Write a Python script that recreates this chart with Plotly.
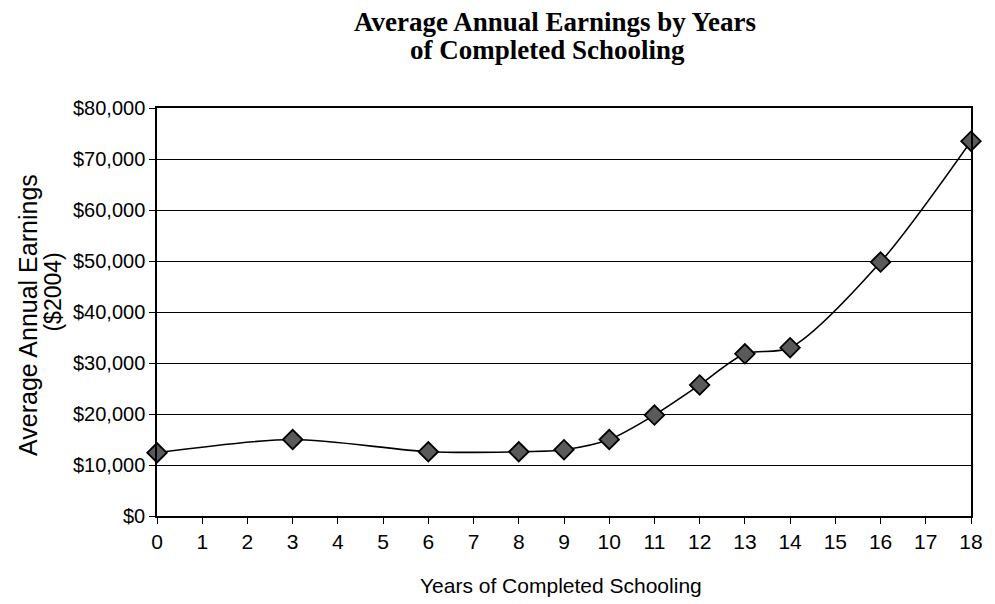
import plotly.graph_objects as go

years = [0, 3, 6, 8, 9, 10, 11, 12, 13, 14, 16, 18]
earnings = [12400, 15000, 12600, 12600, 13000, 15000, 19800, 25700, 31800, 33000, 49800, 73500]
x_ticks = list(range(0, 19))
y_ticks = [0, 10000, 20000, 30000, 40000, 50000, 60000, 70000, 80000]
y_tick_labels = ["$0", "$10,000", "$20,000", "$30,000", "$40,000",
                 "$50,000", "$60,000", "$70,000", "$80,000"]

# plot-area pixel box (for placing annotations)
L, R, T, B = 157, 983, 108, 516
W, H = R - L, B - T

fig = go.Figure()
fig.add_trace(go.Scatter(
    x=years, y=earnings, mode="lines+markers",
    line=dict(color="black", width=1.6, shape="spline", smoothing=0.8),
    marker=dict(symbol="diamond", size=15, color="#5a5a5a",
                line=dict(color="black", width=1.8)),
    cliponaxis=False, showlegend=False,
))

fig.update_layout(
    width=995, height=604,
    margin=dict(l=L, r=995 - R, t=T, b=604 - B),
    paper_bgcolor="white", plot_bgcolor="white",
    font=dict(family="Liberation Sans, Arial, sans-serif", color="black"),
)

fig.update_xaxes(
    range=[0, 18], tickvals=x_ticks, ticktext=[str(v) for v in x_ticks],
    showgrid=False, zeroline=False,
    showline=True, linecolor="black", linewidth=1.5, mirror=True,
    ticks="outside", ticklen=6, tickcolor="black", tickwidth=1.2,
    tickfont=dict(size=21, color="black"), ticklabeloverflow="allow",
)
fig.update_yaxes(
    range=[0, 80000], tickvals=y_ticks, ticktext=y_tick_labels,
    showgrid=True, gridcolor="black", gridwidth=1, zeroline=False,
    showline=True, linecolor="black", linewidth=1.5, mirror=True,
    ticks="outside", ticklen=6, tickcolor="black", tickwidth=1.2,
    tickfont=dict(size=20, color="black"),
)

serif = "Liberation Serif, Times New Roman, serif"
fig.add_annotation(
    text="<b>Average Annual Earnings by Years</b>", xref="paper", yref="paper",
    x=(561 - L) / W, y=(B - 22) / H, showarrow=False,
    xanchor="center", yanchor="middle",
    font=dict(family=serif, size=27, color="black"),
)
fig.add_annotation(
    text="<b>of Completed Schooling</b>", xref="paper", yref="paper",
    x=(553.5 - L) / W, y=(B - 50) / H, showarrow=False,
    xanchor="center", yanchor="middle",
    font=dict(family=serif, size=27, color="black"),
)

fig.add_annotation(
    text="Years of Completed Schooling", xref="paper", yref="paper",
    x=(567 - L) / W, y=-(585 - B) / H, showarrow=False,
    xanchor="center", yanchor="middle",
    font=dict(size=21, color="black"),
)
fig.add_annotation(
    text="Average Annual Earnings", xref="paper", yref="paper",
    x=-(L - 26) / W, y=(B - 315) / H, textangle=-90,
    showarrow=False, xanchor="center", yanchor="middle",
    font=dict(size=25, color="black"),
)
fig.add_annotation(
    text="($2004)", xref="paper", yref="paper",
    x=-(L - 51) / W, y=(B - 292) / H, textangle=-90,
    showarrow=False, xanchor="center", yanchor="middle",
    font=dict(size=23, color="black"),
)

fig.write_html("out.html")
